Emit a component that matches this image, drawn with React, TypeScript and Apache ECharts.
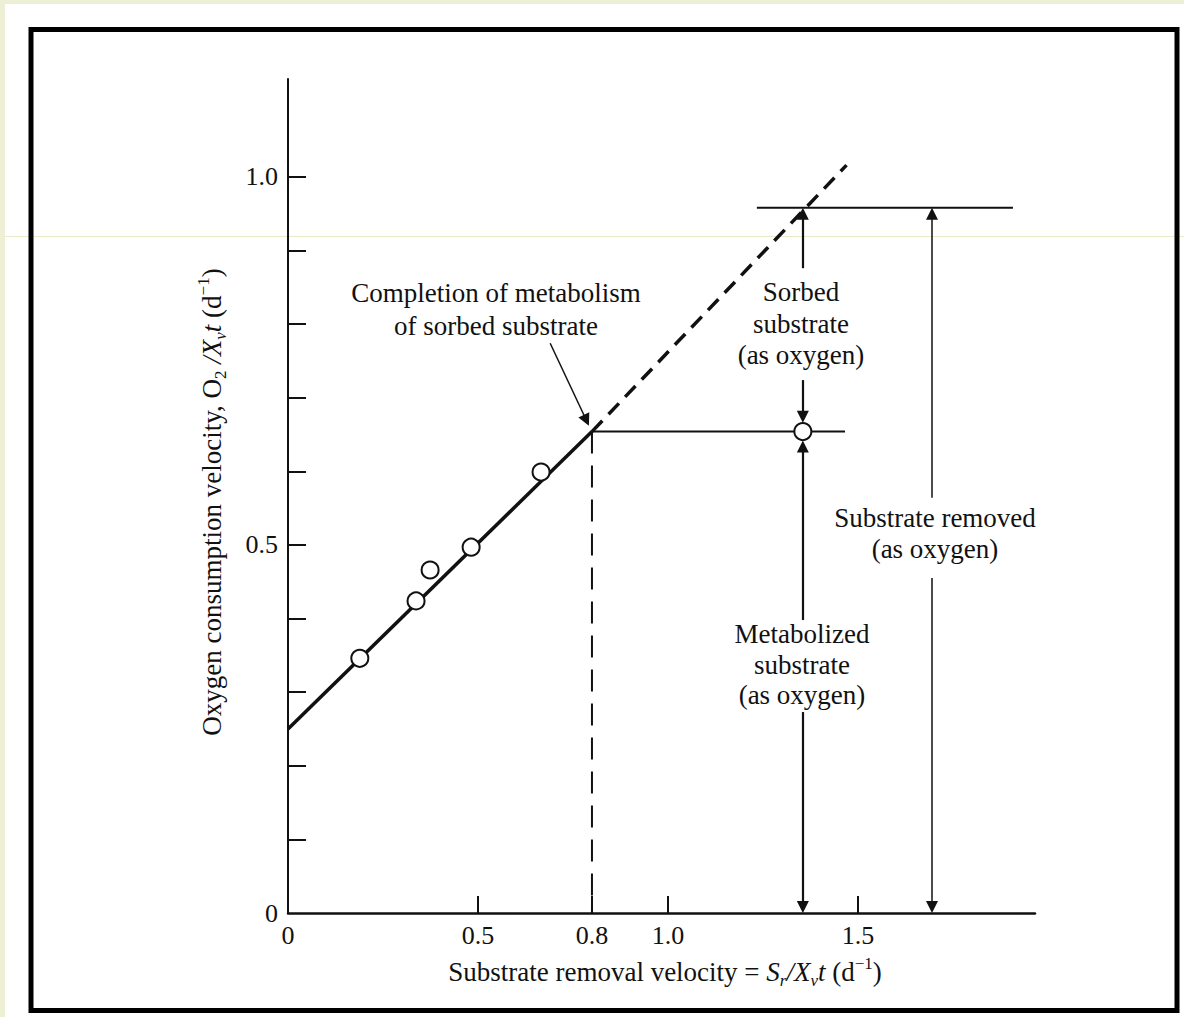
import { useEffect, useRef } from "react";
import * as echarts from "echarts";

const FONT = '"Liberation Serif", "Times New Roman", Times, serif';
const INK = "#111111";

// Axis ticks and tick labels
const xTickValues = [0.5, 0.8, 1.0, 1.5];
const xLabelValues = [0, 0.5, 0.8, 1.0, 1.5];
const yTickValues = [0.1, 0.2, 0.3, 0.4, 0.5, 0.6, 0.7, 0.8, 0.9, 1.0];
const yLabelValues = [0, 0.5, 1.0];

// Measured oxygen uptake vs. substrate removal velocity
const sampleX = [0.189, 0.337, 0.374, 0.482, 0.666];
const sampleY = [0.346, 0.424, 0.466, 0.497, 0.599];

// Fitted line, its extrapolation and the construction lines
const fitLine = [[0, 0.25], [0.8, 0.654]];
const fitExtension = [[0.8, 0.654], [1.47, 1.016]];
const completionDrop = [[0.8, 0.654], [0.8, 0]];
const metabolizedLevel = [[0.8, 0.654], [1.466, 0.654]];
const removedLevel = [[1.234, 0.958], [1.908, 0.958]];
const batchPoint = [[1.355, 0.654]];

// Dimension arrows (tail -> tip)
const heavyArrows = [
  [[1.355, 0.876], [1.355, 0.958]],
  [[1.355, 0.724], [1.355, 0.666]],
  [[1.355, 0.398], [1.355, 0.642]],
  [[1.355, 0.273], [1.355, 0.0]],
];
const lightArrows = [
  [[1.695, 0.564], [1.695, 0.958]],
  [[1.695, 0.455], [1.695, 0.0]],
  [[0.69, 0.774], [0.792, 0.662]],
];

const X_MAX = 1.966;
const Y_MAX = 1.133;
const GRID = { left: 288, top: 79, width: 747, height: 834 };
const HEAD = 12;

// Pull each arrow's end back by half a head so the triangle's tip lands on the target.
function headAdjusted(seg: number[][]) {
  const sx = GRID.width / X_MAX;
  const sy = GRID.height / Y_MAX;
  const [a, b] = seg;
  const dx = (b[0] - a[0]) * sx;
  const dy = (b[1] - a[1]) * sy;
  const len = Math.hypot(dx, dy) || 1;
  const k = HEAD / 2 / len;
  return [a, [b[0] - (dx * k) / sx, b[1] - (dy * k) / sy]];
}

const richBase = {
  n: { fontFamily: FONT, fontSize: 27, fill: INK, color: INK, lineHeight: 34 },
  i: { fontFamily: FONT, fontSize: 27, fontStyle: "italic", fill: INK, color: INK, lineHeight: 34 },
  sn: { fontFamily: FONT, fontSize: 17, fill: INK, color: INK, lineHeight: 17, verticalAlign: "bottom" },
  si: { fontFamily: FONT, fontSize: 17, fontStyle: "italic", fill: INK, color: INK, lineHeight: 17, verticalAlign: "bottom" },
  up: { fontFamily: FONT, fontSize: 17, fill: INK, color: INK, lineHeight: 24, verticalAlign: "top" },
};

function noteText(x: number, y: number, text: string, lineHeight: number) {
  return {
    type: "text",
    x,
    y,
    z: 10,
    style: {
      text,
      fontFamily: FONT,
      fontSize: 27,
      lineHeight,
      fill: INK,
      align: "center",
      verticalAlign: "middle",
    },
  };
}

function segmentSeries(data: number[][], width: number, dash?: number[], z = 3) {
  return {
    type: "line",
    data,
    symbol: "none",
    silent: true,
    z,
    lineStyle: { color: INK, width, type: dash ? dash : "solid", cap: "butt" },
  };
}

function arrowSeries(segments: number[][][], width: number) {
  return {
    type: "lines",
    coordinateSystem: "cartesian2d",
    silent: true,
    z: 7,
    symbol: ["none", "triangle"],
    symbolSize: HEAD,
    lineStyle: { color: INK, width, opacity: 1, curveness: 0 },
    itemStyle: { color: INK },
    data: segments.map((seg) => ({ coords: headAdjusted(seg) })),
  };
}

export default function App() {
  const ref = useRef<HTMLDivElement>(null);

  useEffect(() => {
    if (!ref.current) return;
    const chart = echarts.init(ref.current, undefined, { renderer: "svg" });

    const option = {
      animation: false,
      backgroundColor: "#edf0d4",
      grid: { ...GRID, containLabel: false },
      xAxis: {
        type: "value",
        min: 0,
        max: X_MAX,
        splitLine: { show: false },
        axisLine: { show: true, onZero: false, lineStyle: { color: INK, width: 2.5 } },
        axisTick: {
          show: true,
          inside: true,
          length: 17,
          customValues: xTickValues,
          lineStyle: { color: INK, width: 2 },
        },
        axisLabel: {
          customValues: xLabelValues,
          margin: 9,
          color: INK,
          fontFamily: FONT,
          fontSize: 26,
          formatter: (v: number) => (v === 0 ? "0" : v.toFixed(1)),
        },
      },
      yAxis: {
        type: "value",
        min: 0,
        max: Y_MAX,
        splitLine: { show: false },
        axisLine: { show: true, onZero: false, lineStyle: { color: INK, width: 2 } },
        axisTick: {
          show: true,
          inside: true,
          length: 18,
          customValues: yTickValues,
          lineStyle: { color: INK, width: 2 },
        },
        axisLabel: {
          customValues: yLabelValues,
          margin: 10,
          color: INK,
          fontFamily: FONT,
          fontSize: 26,
          formatter: (v: number) => (v === 0 ? "0" : v.toFixed(1)),
        },
      },
      series: [
        segmentSeries(fitLine, 3.5),
        segmentSeries(fitExtension, 3.5, [15, 9]),
        segmentSeries(completionDrop, 2, [22, 12]),
        segmentSeries(metabolizedLevel, 2),
        segmentSeries(removedLevel, 2),
        {
          type: "scatter",
          data: sampleX.map((x, i) => [x, sampleY[i]]),
          symbol: "circle",
          symbolSize: 17,
          silent: true,
          z: 6,
          itemStyle: { color: "#ffffff", borderColor: INK, borderWidth: 2, opacity: 1 },
        },
        {
          type: "scatter",
          data: batchPoint,
          symbol: "circle",
          symbolSize: 17,
          silent: true,
          z: 6,
          itemStyle: { color: "#ffffff", borderColor: INK, borderWidth: 2, opacity: 1 },
        },
        arrowSeries(heavyArrows, 2.2),
        arrowSeries(lightArrows, 1.5),
      ],
      graphic: {
        elements: [
          {
            type: "rect",
            z: -100,
            silent: true,
            shape: { x: 5, y: 4, width: 1179, height: 1013 },
            style: { fill: "#ffffff" },
          },
          {
            type: "line",
            z: -90,
            silent: true,
            shape: { x1: 5, y1: 236.5, x2: 1184, y2: 236.5 },
            style: { stroke: "#e7ecc8", lineWidth: 1 },
          },
          {
            type: "rect",
            z: -80,
            silent: true,
            shape: { x: 31, y: 29.5, width: 1146, height: 981 },
            style: { fill: "none", stroke: "#000000", lineWidth: 5 },
          },
          noteText(496, 309.5, "Completion of metabolism\nof sorbed substrate", 33),
          noteText(801, 323.5, "Sorbed\nsubstrate\n(as oxygen)", 31.5),
          noteText(802, 664.5, "Metabolized\nsubstrate\n(as oxygen)", 30.5),
          noteText(935, 533.5, "Substrate removed\n(as oxygen)", 31),
          {
            type: "text",
            x: 665,
            y: 972,
            z: 10,
            style: {
              text: "{n|Substrate removal velocity = }{i|S}{si|r}{i|/X}{si|v}{i|t}{n| (d}{up|−1}{n|)}",
              rich: richBase,
              fontFamily: FONT,
              fontSize: 27,
              fill: INK,
              align: "center",
              verticalAlign: "middle",
            },
          },
          {
            type: "text",
            x: 212,
            y: 502,
            z: 10,
            rotation: Math.PI / 2,
            style: {
              text: "{n|Oxygen consumption velocity, O}{sn|2}{n| }{i|/X}{si|v}{i|t}{n| (d}{up|−1}{n|)}",
              rich: richBase,
              fontFamily: FONT,
              fontSize: 27,
              fill: INK,
              align: "center",
              verticalAlign: "middle",
            },
          },
        ],
      },
    };

    chart.setOption(option as any);
    return () => chart.dispose();
  }, []);

  return (
    <div
      ref={ref}
      style={{ position: "fixed", left: 0, top: 0, width: 1184, height: 1017 }}
    />
  );
}
